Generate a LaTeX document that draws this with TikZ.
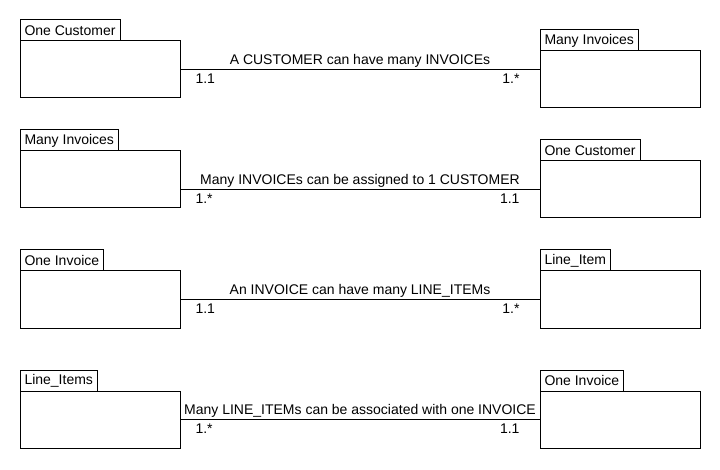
\documentclass[tikz,border=0pt]{standalone}
\usepackage{fontspec}
\setmainfont{Liberation Sans}
\usetikzlibrary{positioning}

\begin{document}
\begin{tikzpicture}[x=1pt,y=-1pt,line width=1pt,
        font=\fontsize{14}{16}\selectfont,
        entity/.style={draw,rectangle,minimum width=160pt,minimum height=57pt,
          inner sep=0pt,outer sep=0pt},
        tab/.style={draw,rectangle,anchor=south west,inner xsep=4.5pt,
          inner ysep=0pt,minimum height=21pt,outer sep=0pt},
        assoc/.style={anchor=base,yshift=5pt,inner sep=0pt},
        lmult/.style={pos=0,anchor=north west,xshift=15pt,yshift=-4pt,inner sep=0pt},
        rmult/.style={pos=1,anchor=north east,xshift=-20pt,yshift=-4pt,inner sep=0pt}]
      \path[use as bounding box,fill=white] (0,0) rectangle (720,470);
      % customer -> invoices
      \node[entity] (cust1) at (100,69.5) {};
      \node[tab] (cust1tab) at (cust1.north west) {One Customer};
      \node[entity] (inv1) at (620,79.5) {};
      \node[tab] (inv1tab) at (inv1.north west) {Many Invoices};
      \draw (cust1.east) -- node[assoc] {A CUSTOMER can have many INVOICEs}
        node[lmult] {1.1} node[rmult] {1.*} (cust1.east -| inv1.west);
      % invoices -> customer
      \node[entity] (inv2) at (100,179.5) {};
      \node[tab] (inv2tab) at (inv2.north west) {Many Invoices};
      \node[entity] (cust2) at (620,189.5) {};
      \node[tab] (cust2tab) at (cust2.north west) {One Customer};
      \draw (cust2.west -| inv2.east) -- node[assoc] {Many INVOICEs can be assigned to 1 CUSTOMER}
        node[lmult] {1.*} node[rmult] {1.1} (cust2.west);
      % invoice -> line items
      \node[entity] (inv3) at (100,299.5) {};
      \node[tab] (inv3tab) at (inv3.north west) {One Invoice};
      \node[entity] (item3) at (620,299.5) {};
      \node[tab] (item3tab) at (item3.north west) {Line\_Item};
      \draw (inv3.east) -- node[assoc] {An INVOICE can have many LINE\_ITEMs}
        node[lmult] {1.1} node[rmult] {1.*} (item3.west);
      % line items -> invoice
      \node[entity] (item4) at (100,419.5) {};
      \node[tab] (item4tab) at (item4.north west) {Line\_Items};
      \node[entity] (inv4) at (620,419.5) {};
      \node[tab] (inv4tab) at (inv4.north west) {One Invoice};
      \draw (item4.east) -- node[assoc] {Many LINE\_ITEMs can be associated with one INVOICE}
        node[lmult] {1.*} node[rmult] {1.1} (inv4.west);
    \end{tikzpicture}
\end{document}
